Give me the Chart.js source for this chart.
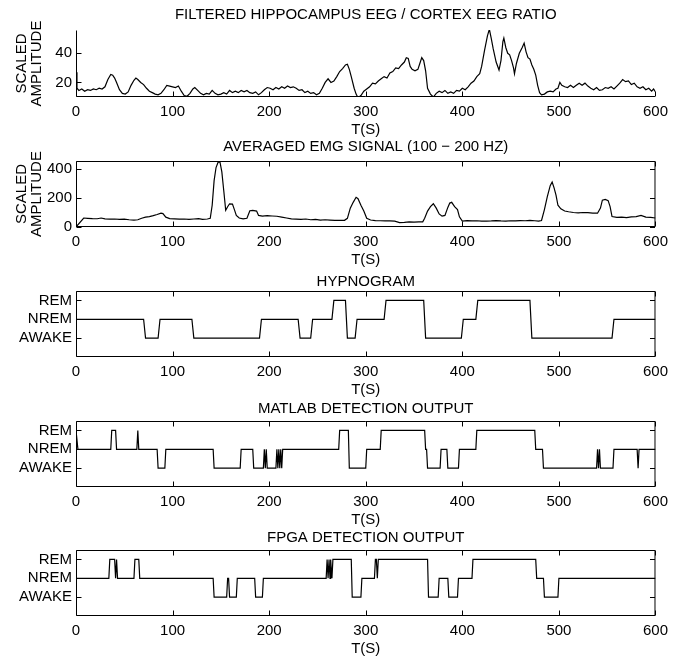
<!DOCTYPE html>
<html>
<head>
<meta charset="utf-8">
<script src="https://cdn.jsdelivr.net/npm/chart.js@4.4.1/dist/chart.umd.min.js"></script>
<style>
  body { margin: 0; background: #fff; }
  #wrap { position: relative; width: 674px; height: 656px; }
  #wrap canvas { position: absolute; left: 0; top: 0; }
</style>
</head>
<body>
<div id="wrap">
  <canvas id="eeg" width="674" height="656"></canvas>
  <canvas id="emg" width="674" height="656"></canvas>
  <canvas id="hypno" width="674" height="656"></canvas>
  <canvas id="matlab" width="674" height="656"></canvas>
  <canvas id="fpga" width="674" height="656"></canvas>
</div>
<script>
// ---- data ----
const timeTicks = [0, 100, 200, 300, 400, 500, 600];
const timeMax = 600;
const stateNames = ['AWAKE', 'NREM', 'REM']; // levels 1, 2, 3

const eegTicks = [20, 40];
const eegTime = [0, 1, 3, 6, 9, 12, 15, 18, 21, 24, 27, 30, 33, 36, 38, 40, 42, 45, 48, 51, 54, 57, 60, 62, 64, 67, 70, 73, 76, 79,
  82, 85, 88, 91, 94, 97, 100, 103, 106, 109, 112, 115, 118, 121, 123, 126, 129, 132, 135, 138, 141, 144, 147, 150, 153, 156, 159, 162, 165, 168,
  171, 174, 177, 180, 183, 186, 189, 192, 195, 198, 201, 204, 207, 210, 213, 216, 219, 222, 225, 228, 231, 234, 237, 240, 243, 246, 249, 252, 255, 258,
  261, 264, 267, 270, 273, 276, 279, 281, 283, 285, 288, 290, 292, 295, 298, 301, 304, 307, 310, 313, 316, 319, 322, 325, 328, 331, 334, 337, 340, 342,
  344, 346, 348, 351, 354, 356, 358, 360, 362, 364, 367, 370, 373, 376, 379, 382, 385, 388, 391, 394, 397, 400, 403, 406, 409, 412, 415, 418, 420, 423,
  426, 428, 430, 432, 435, 438, 440, 442, 443, 445, 447, 449, 451, 453, 454, 456, 459, 462, 464, 466, 468, 470, 472, 474, 476, 478, 480, 482, 485, 488,
  491, 494, 497, 499, 501, 503, 506, 509, 512, 515, 518, 521, 524, 527, 530, 533, 536, 539, 542, 545, 548, 551, 554, 557, 560, 563, 566, 569, 572, 575,
  578, 581, 584, 587, 590, 593, 596, 598, 600];
const eegValue = [27, 16, 14.5, 15.5, 14, 15, 14.5, 15.5, 15, 16, 15.5, 17, 22, 25.5, 25, 23, 20, 15, 12.5, 12, 13.5, 18, 21.5, 23, 22, 20, 18.5, 16, 14, 13,
  12, 11.5, 12.5, 15, 18, 17.5, 17, 16.5, 17.5, 14, 11, 10.5, 12.5, 15.5, 16.5, 14.5, 12.5, 11.5, 12.5, 12, 14.5, 12.5, 11.5, 12, 13, 12, 14.5, 13, 14, 13,
  14.5, 13.5, 14.5, 13, 12.5, 13.5, 11.5, 13, 15, 16.5, 16, 15, 16.5, 15.5, 17, 16, 17.5, 16.5, 17, 16, 14.5, 15, 13, 14, 12.5, 13, 11.5, 12.5, 16, 20,
  22.5, 20, 21, 24, 27.5, 29.5, 32, 32.5, 29, 24, 16, 12, 9.5, 11, 14, 15.5, 17, 19.5, 19, 21, 22.5, 24, 23, 26.5, 27.5, 30, 29.5, 32, 34, 37,
  36.5, 31, 29, 28, 29, 33, 37, 35, 28, 16, 12, 10, 12.5, 14, 13, 14.5, 12.5, 13.5, 12.5, 14.5, 14, 16, 15, 17, 19.5, 21, 24, 26, 31, 42,
  52, 56.5, 50, 43, 34, 28.5, 35, 48, 50.5, 44, 40, 39, 35, 30, 26, 33, 40, 44, 47, 41, 37, 36, 32, 29, 25, 18, 13, 11.5, 12, 13.5,
  14, 13.5, 15.5, 16, 20, 18, 17, 16.5, 18, 16.5, 18, 19.5, 18, 19.5, 17.5, 16, 15, 16.5, 14.5, 15, 16.5, 16, 17, 15.5, 17.5, 19.5, 22, 20.5, 21, 18.5,
  19.5, 17, 16, 17, 15, 16, 14, 15.5, 13.5];

const emgTicks = [0, 200, 400];
const emgTime = [0, 8, 12, 17, 22, 26, 30, 35, 40, 45, 50, 55, 60, 64, 68, 72, 76, 80, 84, 88, 90, 93, 97, 102, 107, 112, 117, 122, 127, 131,
  136, 139, 141, 143, 145, 147, 149, 151, 153, 155, 157, 159, 162, 164, 166, 169, 173, 177, 180, 183, 187, 189, 193, 198, 203, 208, 213, 218, 223, 228,
  233, 238, 243, 248, 253, 258, 263, 268, 273, 278, 281, 284, 287, 290, 292, 295, 298, 301, 305, 310, 315, 320, 325, 330, 335, 340, 345, 350, 355, 359,
  361, 364, 367, 370, 373, 376, 379, 382, 385, 387, 389, 392, 395, 397, 400, 405, 410, 415, 420, 425, 430, 435, 440, 445, 450, 455, 460, 465, 470, 475,
  479, 482, 485, 488, 491, 493, 495, 497, 499, 502, 506, 510, 515, 520, 525, 530, 535, 540, 543, 545, 548, 551, 553, 555, 560, 565, 570, 575, 580, 585,
  590, 595, 600];
const emgValue = [0, 62, 60, 58, 57, 62, 56, 54, 55, 52, 54, 50, 47, 50, 60, 68, 72, 78, 86, 95, 92, 68, 58, 56, 54, 55, 52, 55, 58, 53,
  55, 60, 150, 320, 410, 445, 450, 380, 250, 115, 140, 160, 158, 120, 80, 62, 56, 60, 112, 115, 110, 80, 75, 78, 76, 74, 68, 62, 56, 54,
  52, 55, 50, 52, 48, 50, 48, 46, 45, 46, 60, 130, 170, 205, 195, 150, 110, 60, 48, 44, 43, 42, 42, 40, 30, 32, 35, 34, 36, 36,
  60, 110, 140, 160, 130, 90, 75, 80, 135, 165, 170, 140, 120, 70, 40, 44, 42, 43, 40, 41, 42, 44, 42, 41, 43, 42, 44, 43, 45, 43,
  40, 45, 120, 210, 285, 310, 270, 220, 150, 125, 110, 105, 100, 98, 100, 99, 96, 95, 130, 185, 190, 182, 140, 72, 66, 68, 65, 70, 72, 80,
  68, 66, 62];

const hypnoStart = [0, 70, 85, 120, 190, 230, 243, 265, 279, 289, 319, 360, 399, 414, 470, 555];
const hypnoState = ['NREM', 'AWAKE', 'NREM', 'AWAKE', 'NREM', 'AWAKE', 'NREM', 'REM', 'AWAKE', 'NREM', 'REM', 'AWAKE', 'NREM', 'REM', 'AWAKE', 'NREM'];

const matlabStart = [0, 1, 36, 41, 63, 64, 84, 92, 142, 170, 183, 194, 195, 196, 197, 207, 208, 209, 210, 211, 212, 213,
  272, 282, 300, 315, 361, 363, 377, 384, 396, 414, 475, 483, 539, 540, 541, 542, 556, 581, 582];
const matlabState = ['REM', 'NREM', 'REM', 'NREM', 'REM', 'NREM', 'AWAKE', 'NREM', 'AWAKE', 'NREM', 'AWAKE', 'NREM', 'AWAKE', 'NREM', 'AWAKE', 'NREM', 'AWAKE', 'NREM', 'AWAKE', 'NREM', 'AWAKE', 'NREM',
  'REM', 'AWAKE', 'NREM', 'REM', 'NREM', 'AWAKE', 'NREM', 'AWAKE', 'NREM', 'REM', 'NREM', 'AWAKE', 'NREM', 'AWAKE', 'NREM', 'AWAKE', 'NREM', 'AWAKE', 'NREM'];

const fpgaStart = [0, 34, 40, 41, 42, 60, 65, 142, 156, 158, 166, 185, 193, 259, 260, 261, 262, 263, 264, 265, 285, 295,
  309, 311, 312, 364, 375, 385, 395, 410, 476, 484, 499];
const fpgaState = ['NREM', 'REM', 'NREM', 'REM', 'NREM', 'REM', 'NREM', 'AWAKE', 'NREM', 'AWAKE', 'NREM', 'AWAKE', 'NREM', 'REM', 'NREM', 'REM', 'NREM', 'REM', 'NREM', 'REM', 'AWAKE', 'NREM',
  'REM', 'NREM', 'REM', 'AWAKE', 'NREM', 'AWAKE', 'NREM', 'REM', 'NREM', 'AWAKE', 'NREM'];

// ---- drawing ----
const FONT = "'Liberation Sans', Arial, Helvetica, sans-serif";
Chart.defaults.font.family = FONT;
Chart.defaults.font.size = 15;
Chart.defaults.color = '#000';

function toPoints(xs, ys) {
  return xs.map((t, i) => ({ x: t, y: ys[i] }));
}

// state segments -> line points, with a short ramp at each change like a sampled trace
function stepPoints(starts, states, ramp) {
  const pts = [];
  starts.forEach((s, i) => {
    const end = i + 1 < starts.length ? starts[i + 1] : timeMax;
    const lv = stateNames.indexOf(states[i]) + 1;
    pts.push({ x: i === 0 ? s : s + ramp, y: lv });
    pts.push({ x: end, y: lv });
  });
  return pts;
}

// box, inward tick marks and panel title (MATLAB look)
const panelFrame = {
  id: 'panelFrame',
  afterDraw(chart, args, opts) {
    const { ctx, chartArea: a, scales } = chart;
    const len = 5;
    ctx.save();
    ctx.strokeStyle = '#000';
    ctx.lineWidth = 1;
    ctx.beginPath();
    const L = a.left + 0.5, R = a.right - 0.5, T = a.top + 0.5, B = a.bottom - 0.5;
    if (opts.box) {
      ctx.rect(L, T, R - L, B - T);
    } else {
      ctx.moveTo(L, T);
      ctx.lineTo(L, B);
      ctx.lineTo(R, B);
    }
    scales.x.ticks.forEach(t => {
      const px = Math.round(scales.x.getPixelForValue(t.value)) + 0.5;
      ctx.moveTo(px, B); ctx.lineTo(px, B - len);
      if (opts.box) { ctx.moveTo(px, T); ctx.lineTo(px, T + len); }
    });
    scales.y.ticks.forEach(t => {
      const py = Math.round(scales.y.getPixelForValue(t.value)) + 0.5;
      ctx.moveTo(L, py); ctx.lineTo(L + len, py);
      if (opts.box) { ctx.moveTo(R, py); ctx.lineTo(R - len, py); }
    });
    ctx.stroke();
    ctx.fillStyle = '#000';
    ctx.font = '15px ' + FONT;
    ctx.textAlign = 'center';
    ctx.textBaseline = 'middle';
    ctx.fillText(opts.title, (a.left + a.right) / 2, opts.titleY);
    ctx.restore();
  }
};

function makePanel(id, o) {
  const yTitle = o.yTitle
    ? { display: true, text: o.yTitle, padding: { top: 14, bottom: 0 }, font: { size: 15, lineHeight: 1.0 } }
    : { display: false };
  return new Chart(document.getElementById(id), {
    type: 'line',
    data: {
      datasets: [{
        data: o.points,
        borderColor: '#000',
        borderWidth: 1.2,
        pointRadius: 0,
        tension: 0,
        fill: false
      }]
    },
    options: {
      responsive: false,
      animation: false,
      devicePixelRatio: 1,
      layout: { padding: { top: o.top, bottom: 656 - o.bottom - 42, left: 0, right: 14 } },
      plugins: {
        legend: { display: false },
        tooltip: { enabled: false },
        panelFrame: { box: o.box, title: o.title, titleY: o.titleY }
      },
      scales: {
        x: {
          type: 'linear',
          min: 0,
          max: timeMax,
          grid: { display: false, drawTicks: false },
          border: { display: false },
          afterBuildTicks: s => { s.ticks = timeTicks.map(v => ({ value: v })); },
          afterFit: s => { s.height = 42; },
          ticks: { maxRotation: 0, padding: 6 },
          title: { display: true, text: 'T(S)', padding: 0, font: { size: 15 } }
        },
        y: {
          type: 'linear',
          min: o.yMin,
          max: o.yMax,
          grid: { display: false, drawTicks: false },
          border: { display: false },
          afterBuildTicks: s => { s.ticks = o.yTicks.map(v => ({ value: v })); },
          afterFit: s => { s.width = 76; },
          ticks: { padding: 4, callback: o.yLabel || (v => v) },
          title: yTitle
        }
      }
    },
    plugins: [panelFrame]
  });
}

const stateLabel = v => stateNames[v - 1];

makePanel('eeg', {
  points: toPoints(eegTime, eegValue), top: 30, bottom: 97, titleY: 15, box: false,
  title: 'FILTERED HIPPOCAMPUS EEG / CORTEX EEG RATIO',
  yMin: 10, yMax: 56, yTicks: eegTicks, yTitle: ['SCALED', 'AMPLITUDE']
});
makePanel('emg', {
  points: toPoints(emgTime, emgValue), top: 161, bottom: 227, titleY: 147, box: true,
  title: 'AVERAGED EMG SIGNAL (100 \u2212 200 HZ)',
  yMin: 0, yMax: 455, yTicks: emgTicks, yTitle: ['SCALED', 'AMPLITUDE']
});
makePanel('hypno', {
  points: stepPoints(hypnoStart, hypnoState, 2), top: 291, bottom: 357, titleY: 282, box: true,
  title: 'HYPNOGRAM',
  yMin: 0, yMax: 3.5, yTicks: [1, 2, 3], yLabel: stateLabel
});
makePanel('matlab', {
  points: stepPoints(matlabStart, matlabState, 1), top: 421, bottom: 487, titleY: 409, box: true,
  title: 'MATLAB DETECTION OUTPUT',
  yMin: 0, yMax: 3.5, yTicks: [1, 2, 3], yLabel: stateLabel
});
makePanel('fpga', {
  points: stepPoints(fpgaStart, fpgaState, 1), top: 550, bottom: 616, titleY: 538, box: true,
  title: 'FPGA DETECTION OUTPUT',
  yMin: 0, yMax: 3.5, yTicks: [1, 2, 3], yLabel: stateLabel
});
</script>
</body>
</html>
